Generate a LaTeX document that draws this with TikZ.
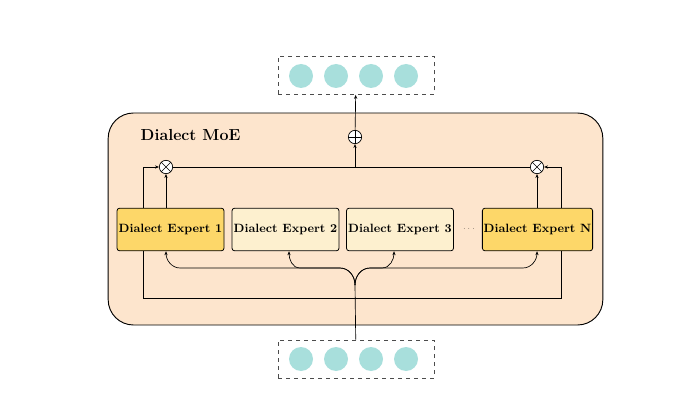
\documentclass[tikz,border=0pt]{standalone}
\usetikzlibrary{arrows.meta}
\definecolor{moe}{HTML}{FDE5CD}
\definecolor{expA}{HTML}{FDD769}
\definecolor{expB}{HTML}{FDF0CF}
\definecolor{tok}{HTML}{A8DFDC}
\begin{document}
\begin{tikzpicture}[x=0.75pt,y=-0.75pt,
  arr/.style={-{Stealth[length=3pt,width=2.4pt]},line width=0.5pt},
  ln/.style={line width=0.5pt},
  expert/.style={draw,line width=0.6pt,rounded corners=2pt,minimum width=80.25pt,minimum height=32pt,font=\fontsize{9}{10}\selectfont\bfseries,inner sep=1pt},
  tokbox/.style={draw=black!70,dashed,line width=0.5pt,minimum width=117pt,minimum height=28.5pt},
  tok/.style={circle,fill=tok,minimum size=18pt,inner sep=0pt},
  op/.style={circle,draw,fill=white,minimum size=10pt,inner sep=0pt,line width=0.5pt}]
\useasboundingbox (0,0) rectangle (692,417);
\node[draw,line width=0.7pt,fill=moe,rounded corners=19pt,minimum width=371pt,minimum height=159pt] (moe) at (355.5,219) {};
\node[font=\large\bfseries,anchor=west] (title) at (136,135) {Dialect MoE};
\node[expert,fill=expA] (e1) at (170.5,229.5) {Dialect Expert 1};
\node[expert,fill=expB] (e2) at (285.5,229.5) {Dialect Expert 2};
\node[expert,fill=expB] (e3) at (400,229.5) {Dialect Expert 3};
\node[expert,fill=expA] (en) at (537.5,229.5) {Dialect Expert N};
\node[font=\tiny] (dots) at (469,229) {$\cdots$};
\node[op] (o1) at (166,167) {};
\node[op] (on) at (537,167) {};
\node[op] (plus) at (355,137) {};
\foreach \n in {o1,on}{
  \draw[ln] (\n.north west)--(\n.south east) (\n.north east)--(\n.south west);
}
\draw[ln] (plus.north)--(plus.south) (plus.west)--(plus.east);
\draw[ln] (o1) -- (on);
\coordinate (mid) at (355,167);
\coordinate (xl) at (143,0);
\coordinate (xr) at (561,0);
\coordinate (x2) at (289,0);
\coordinate (x3) at (394,0);
\draw[arr] (mid) -- (plus);
\node[tokbox] (top) at (356,75.5) {};
\node[tokbox] (bot) at (356,359) {};
\foreach \i/\x in {1/301,2/336,3/371,4/406}{
  \node[tok] (t\i) at (\x,76) {};
  \node[tok] (b\i) at (\x,359) {};
}
\draw[arr] (plus) -- (top);
% gating paths
\draw[arr] (e1.north -| xl) |- (o1);
\draw[arr] (en.north -| xr) |- (on);
\draw[arr] (e1.north -| o1) -- (o1);
\draw[arr] (en.north -| on) -- (on);
\draw[ln] (e1.south -| xl) -- (143,298) -- (561,298) -- (en.south -| xr);
% input
\coordinate (in) at (355,285);
\draw[ln] (bot) -- (in);
\draw[arr] (in) to[out=90,in=0] (340,268) -- (180,268) to[out=180,in=-90] (e1.south -| o1);
\draw[arr] (in) to[out=90,in=0] (340,268) -- (300,268) to[out=180,in=-90] (e2.south -| x2);
\draw[arr] (in) to[out=90,in=180] (370,268) -- (382,268) to[out=0,in=-90] (e3.south -| x3);
\draw[arr] (in) to[out=90,in=180] (370,268) -- (523,268) to[out=0,in=-90] (en.south -| on);
\end{tikzpicture}
\end{document}
